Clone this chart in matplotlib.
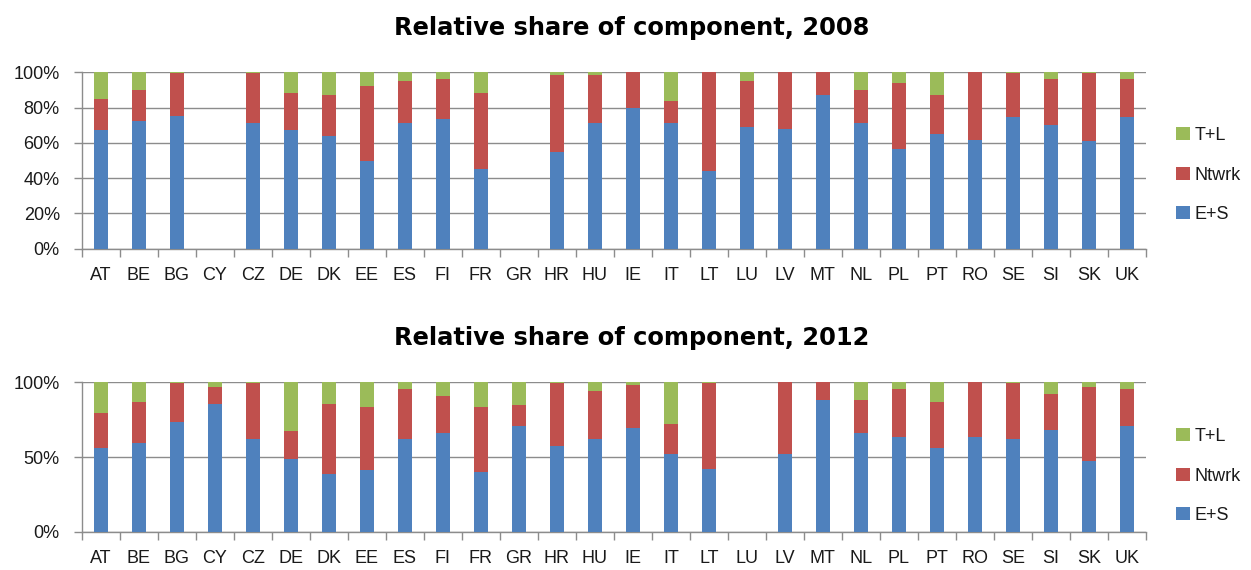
import matplotlib
matplotlib.use("Agg")
import matplotlib.pyplot as plt
import numpy as np
from matplotlib.ticker import FuncFormatter

countries = ["AT", "BE", "BG", "CY", "CZ", "DE", "DK", "EE", "ES", "FI", "FR", "GR", "HR", "HU",
             "IE", "IT", "LT", "LU", "LV", "MT", "NL", "PL", "PT", "RO", "SE", "SI", "SK", "UK"]

# 2008 shares (%)
es_2008 = [67.1, 72.2, 75.4, 0, 71.1, 67.1, 63.9, 49.5, 71.1, 73.3, 45.2, 0, 54.6, 71.1,
           79.6, 71.1, 44.2, 69.2, 68.1, 87.0, 71.1, 56.7, 65.0, 61.8, 74.5, 70.3, 60.9, 74.5]
ntwrk_2008 = [17.6, 17.8, 24.0, 0, 28.3, 21.0, 23.1, 42.6, 24.2, 23.1, 42.9, 0, 43.9, 27.4,
              20.4, 12.6, 55.8, 26.1, 31.9, 13.0, 18.9, 37.4, 22.0, 38.2, 24.9, 26.1, 38.5, 21.9]
tl_2008 = [15.3, 10.0, 0.6, 0, 0.6, 11.9, 13.0, 7.9, 4.7, 3.6, 11.9, 0, 1.5, 1.5,
           0, 16.3, 0, 4.7, 0, 0, 10.0, 5.9, 13.0, 0, 0.6, 3.6, 0.6, 3.6]

# 2012 shares (%)
es_2012 = [56.1, 59.7, 73.3, 85.7, 62.1, 48.6, 38.8, 41.2, 62.1, 65.9, 40.1, 70.8, 57.2, 62.1,
           69.7, 52.3, 42.3, 0, 52.3, 88.2, 65.9, 63.5, 56.1, 63.5, 62.1, 68.4, 47.4, 70.8]
ntwrk_2012 = [23.4, 27.2, 26.0, 11.0, 37.2, 18.7, 46.9, 42.1, 33.4, 24.7, 43.2, 13.8, 42.1, 32.3,
              28.5, 19.9, 57.0, 0, 47.7, 11.8, 22.3, 32.0, 30.8, 36.5, 37.2, 23.6, 49.5, 24.7]
tl_2012 = [20.5, 13.1, 0.7, 3.3, 0.7, 32.7, 14.3, 16.7, 4.5, 9.4, 16.7, 15.4, 0.7, 5.6,
           1.8, 27.8, 0.7, 0, 0, 0, 11.8, 4.5, 13.1, 0, 0.7, 8.0, 3.1, 4.5]

series_names = ["E+S", "Ntwrk", "T+L"]
colors = ["#4F81BD", "#C0504D", "#9BBB59"]

FONT = "Liberation Sans"
TXT = "#1a1a1a"
GRID = "#8c8c8c"

W, H = 1251, 570
fig = plt.figure(figsize=(W / 100, H / 100), dpi=100)


def make_axes(px_left, px_top, px_right, px_bottom):
    return fig.add_axes([px_left / W, 1 - px_bottom / H,
                         (px_right - px_left) / W, (px_bottom - px_top) / H])


def draw(ax, es, nt, tl, yticks, title, title_y, leg_y):
    x = np.arange(len(countries))
    es = np.array(es); nt = np.array(nt); tl = np.array(tl)
    bw = 0.37
    handles = []
    bottoms = np.zeros(len(countries))
    for vals, c, n in zip([es, nt, tl], colors, series_names):
        h = ax.bar(x, vals, bw, bottom=bottoms, color=c, label=n, zorder=3, linewidth=0)
        handles.append(h)
        bottoms = bottoms + vals
    ax.set_xlim(-0.5, len(countries) - 0.5)
    ax.set_ylim(0, 100)
    ax.set_yticks(yticks)
    ax.yaxis.set_major_formatter(FuncFormatter(lambda v, p: f"{int(v)}%"))
    ax.grid(axis="y", color=GRID, linewidth=1.0, zorder=0)
    ax.set_xticks(x)
    ax.set_xticklabels(countries, fontfamily=FONT, fontsize=13, color=TXT)
    ax.set_xticks(np.arange(-0.5, len(countries), 1.0), minor=True)
    ax.tick_params(axis="x", which="major", length=0, pad=13)
    ax.tick_params(axis="x", which="minor", length=6, color=GRID, width=1.0)
    ax.tick_params(axis="y", length=6, color=GRID, width=1.0, pad=10)
    for lbl in ax.get_yticklabels():
        lbl.set_fontfamily(FONT); lbl.set_fontsize(13); lbl.set_color(TXT)
    for s in ["top", "right"]:
        ax.spines[s].set_visible(False)
    for s in ["left", "bottom"]:
        ax.spines[s].set_color(GRID)
        ax.spines[s].set_linewidth(1.0)
    fig.text(632 / W, 1 - title_y / H, title, ha="center", va="center",
             fontfamily="DejaVu Sans", fontweight="bold", fontsize=17.4, color="#000000")
    leg = fig.legend(handles[::-1], series_names[::-1], loc="center left",
                     bbox_to_anchor=(1176 / W, 1 - leg_y / H), bbox_transform=fig.transFigure,
                     frameon=False, handlelength=0.75, handleheight=0.75, handletextpad=0.3,
                     labelspacing=1.25, borderpad=0, borderaxespad=0,
                     prop={"family": FONT, "size": 13})
    for t in leg.get_texts():
        t.set_color(TXT)


ax1 = make_axes(82, 72.3, 1145.7, 248.7)
draw(ax1, es_2008, ntwrk_2008, tl_2008, [0, 20, 40, 60, 80, 100],
     "Relative share of component, 2008", 28, 175)

ax2 = make_axes(82, 382.3, 1145.7, 532)
draw(ax2, es_2012, ntwrk_2012, tl_2012, [0, 50, 100],
     "Relative share of component, 2012", 338, 476)

fig.savefig("out.png", dpi=100)
